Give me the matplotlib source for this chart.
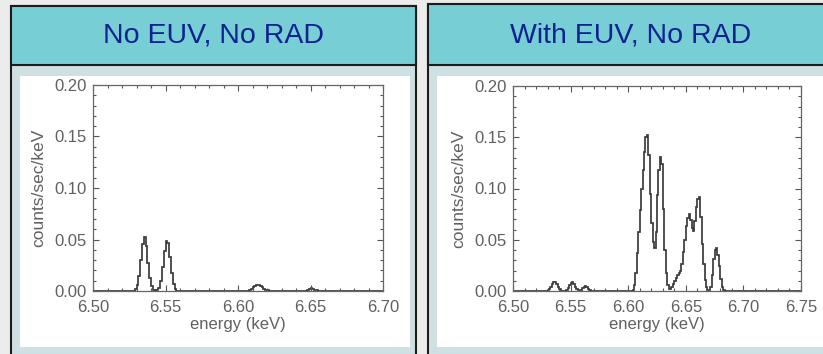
import numpy as np
import matplotlib
matplotlib.use("Agg")
from matplotlib import pyplot as plt
from matplotlib.patches import Rectangle
from matplotlib.ticker import MultipleLocator, FormatStrFormatter

# spectra, binned at 1.25 eV, only the non-zero stretches are listed
bin_width = 0.00125
e_min = 6.50

titles = ["No EUV, No RAD", "With EUV, No RAD"]
x_max = [6.70, 6.75]

left_starts = [6.5275, 6.60375, 6.64625]
left_counts = [
    [0.0003, 0.0015, 0.0055, 0.015, 0.0305, 0.046, 0.052, 0.0435, 0.027,
     0.0126, 0.0044, 0.0011, 0.0003, 0.0008, 0.0033, 0.010, 0.023, 0.039,
     0.049, 0.0465, 0.0326, 0.017, 0.0066, 0.0019, 0.0004],
    [0.0001, 0.0002, 0.0004, 0.001, 0.0021, 0.0035, 0.005, 0.006, 0.0061,
     0.0051, 0.0037, 0.0022, 0.0011, 0.0005, 0.0002],
    [0.0004, 0.0011, 0.0021, 0.0027, 0.0023, 0.0014, 0.0005, 0.0002],
]

right_starts = [6.52875, 6.60375]
right_counts = [
    [0.0001, 0.0005, 0.0016, 0.0039, 0.0069, 0.0092, 0.0091, 0.0067, 0.0037,
     0.0015, 0.0004, 0.0001, 0.0, 0.0003, 0.0012, 0.003, 0.0058, 0.0082,
     0.0087, 0.0068, 0.004, 0.0018, 0.0007, 0.0006, 0.0013, 0.0026, 0.004,
     0.0045, 0.0038, 0.0024, 0.0011, 0.0004, 0.0001],
    [0.001, 0.006, 0.018, 0.037, 0.058, 0.079, 0.100, 0.118, 0.136, 0.150,
     0.152, 0.133, 0.095, 0.066, 0.048, 0.042, 0.058, 0.094, 0.118, 0.131,
     0.124, 0.080, 0.040, 0.018, 0.006, 0.002, 0.002, 0.004, 0.007, 0.010,
     0.013, 0.016, 0.018, 0.020, 0.026, 0.038, 0.050, 0.063, 0.071, 0.075,
     0.069, 0.061, 0.059, 0.068, 0.082, 0.090, 0.092, 0.072, 0.046, 0.026,
     0.011, 0.004, 0.001, 0.000, 0.004, 0.016, 0.031, 0.040, 0.042, 0.035,
     0.024, 0.012, 0.004, 0.001],
]

W, H = 823, 354
BG = "#ececec"
PANEL = "#cfe0e3"
HEADER = "#78ced5"
EDGE = "#1c1c1c"
TITLE_C = "#0d2290"
TXT = "#606060"


def build_spectrum(starts, counts, xmax):
    n = int(round((xmax - e_min) / bin_width))
    vals = np.zeros(n)
    for s, c in zip(starts, counts):
        i0 = int(round((s - e_min) / bin_width))
        vals[i0:i0 + len(c)] = c
    edges = e_min + bin_width * np.arange(n + 1)
    return edges, vals


def px_rect(fig, x0, y0, x1, y1, **kw):
    r = Rectangle((x0 / W, 1 - y1 / H), (x1 - x0) / W, (y1 - y0) / H,
                  transform=fig.transFigure, zorder=-5, **kw)
    fig.patches.append(r)


fig = plt.figure(figsize=(W / 100, H / 100), dpi=100, facecolor=BG)

# panel frames, headers and white plot areas
panels = [(11, 6, 416), (428, 4, 834)]
for (x0, y0, x1), title in zip(panels, titles):
    px_rect(fig, x0, y0, x1, H + 10, facecolor=PANEL, edgecolor=EDGE, lw=1.5)
    px_rect(fig, x0, y0, x1, 65, facecolor=HEADER, edgecolor=EDGE, lw=1.5)
    px_rect(fig, x0 + 9, 76, min(x1 - 6, W), 347, facecolor="white",
            edgecolor="none")
    fig.text((x0 + x1) / 2 / W, 1 - 36 / H, title, ha="center", va="center",
             fontsize=20.5, color=TITLE_C, family="Liberation Sans")

ax_pos = [(93, 85, 383, 291), (513, 86, 801, 291)]
data = [(left_starts, left_counts), (right_starts, right_counts)]

for (x0, y0, x1, y1), (starts, counts), xm in zip(ax_pos, data, x_max):
    ax = fig.add_axes([x0 / W, 1 - y1 / H, (x1 - x0) / W, (y1 - y0) / H])
    edges, vals = build_spectrum(starts, counts, xm)
    ax.stairs(vals, edges, color="#3a3a3a", lw=1.25)
    ax.set_xlim(e_min, xm)
    ax.set_ylim(0, 0.20)
    ax.xaxis.set_major_locator(MultipleLocator(0.05))
    ax.xaxis.set_minor_locator(MultipleLocator(0.01))
    ax.yaxis.set_major_locator(MultipleLocator(0.05))
    ax.yaxis.set_minor_locator(MultipleLocator(0.01))
    ax.xaxis.set_major_formatter(FormatStrFormatter("%.2f"))
    ax.yaxis.set_major_formatter(FormatStrFormatter("%.2f"))
    ax.tick_params(which="both", direction="in", top=True, right=True,
                   color="#555555", width=0.8)
    ax.tick_params(which="major", length=4.5)
    ax.tick_params(which="minor", length=2.2)
    ax.tick_params(axis="x", pad=6.5, labelsize=12, labelcolor=TXT)
    ax.tick_params(axis="y", pad=4.5, labelsize=12, labelcolor=TXT)
    for lab in ax.get_xticklabels() + ax.get_yticklabels():
        lab.set_family("Liberation Sans")
    for sp in ax.spines.values():
        sp.set_color("#666666")
        sp.set_linewidth(0.9)
    ax.set_xlabel("energy (keV)", fontsize=12, color=TXT,
                  family="Liberation Sans", labelpad=1.5)
    ax.set_ylabel("counts/sec/keV", fontsize=12.5, color=TXT,
                  family="Liberation Sans", labelpad=6)

fig.savefig("out.png", dpi=100, facecolor=BG)
